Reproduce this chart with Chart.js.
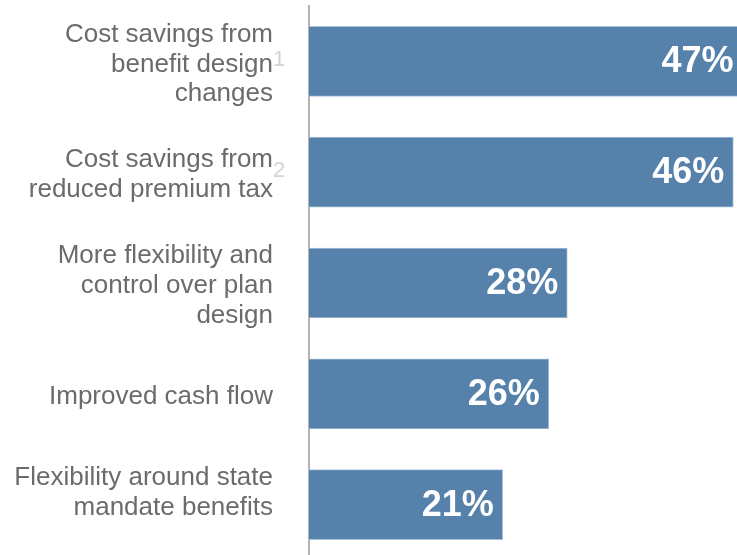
<!DOCTYPE html>
<html>
<head>
<meta charset="utf-8">
<script src="https://cdn.jsdelivr.net/npm/chart.js@4"></script>
<style>
  html, body { margin: 0; padding: 0; background: #fff; overflow: hidden; }
  #wrap { width: 737px; height: 560px; }
</style>
</head>
<body>
<div id="wrap"><canvas id="benefitsChart"></canvas></div>
<script>
// Reasons given, top to bottom (trailing blank line lifts the last label a little)
const reasons = [
  ['Cost savings from', 'benefit design', 'changes'],
  ['Cost savings from', 'reduced premium tax'],
  ['More flexibility and', 'control over plan', 'design'],
  ['Improved cash flow'],
  ['Flexibility around state', 'mandate benefits', '']
];
const shares = [47, 46, 28, 26, 21];
const footnotes = ['1', '2', '', '', ''];

const FONT = '"Liberation Sans", Arial, sans-serif';

// white % labels at the end of each bar
const valueLabels = {
  id: 'valueLabels',
  afterDatasetsDraw(chart) {
    const { ctx, chartArea } = chart;
    const meta = chart.getDatasetMeta(0);
    ctx.save();
    ctx.font = 'bold 36px ' + FONT;
    ctx.fillStyle = '#ffffff';
    ctx.textAlign = 'right';
    ctx.textBaseline = 'middle';
    meta.data.forEach((bar, i) => {
      const x = Math.min(bar.x - 9, chartArea.right - 2);
      ctx.fillText(shares[i] + '%', x, bar.y + 1);
    });
    ctx.restore();
  }
};

// small footnote markers after the category labels
const footnoteMarks = {
  id: 'footnoteMarks',
  afterDraw(chart) {
    const { ctx } = chart;
    const y = chart.scales.y;
    ctx.save();
    ctx.font = '22px ' + FONT;
    ctx.fillStyle = '#d4d4d4';
    ctx.textAlign = 'left';
    ctx.textBaseline = 'middle';
    footnotes.forEach((f, i) => {
      if (!f) return;
      ctx.fillText(f, 273, y.getPixelForValue(i) - 1);
    });
    ctx.restore();
  }
};

new Chart(document.getElementById('benefitsChart'), {
  type: 'bar',
  data: {
    labels: reasons,
    datasets: [{
      data: shares,
      backgroundColor: '#5581ab',
      borderColor: '#a9c1da',
      borderWidth: 1,
      borderSkipped: 'left',
      barThickness: 70
    }]
  },
  options: {
    indexAxis: 'y',
    responsive: true,
    maintainAspectRatio: false,
    animation: false,
    layout: { padding: { top: 6, right: 0, bottom: 0, left: 0 } },
    plugins: {
      legend: { display: false },
      tooltip: { enabled: false }
    },
    scales: {
      x: {
        display: false,
        min: 0,
        max: 46.4
      },
      y: {
        afterFit(scale) {
          // fixed axis position, and no extra room for the tall first/last labels
          scale.width = 309;
          scale.paddingTop = 0;
          scale.paddingBottom = 0;
        },
        grid: { display: false, drawTicks: false },
        border: { display: true, color: '#b3b3b3', width: 2 },
        ticks: {
          padding: 36,
          labelOffset: 3,
          color: '#6b6b6b',
          font: { family: FONT, size: 26, lineHeight: 1.15 }
        }
      }
    }
  },
  plugins: [valueLabels, footnoteMarks]
});
</script>
</body>
</html>
